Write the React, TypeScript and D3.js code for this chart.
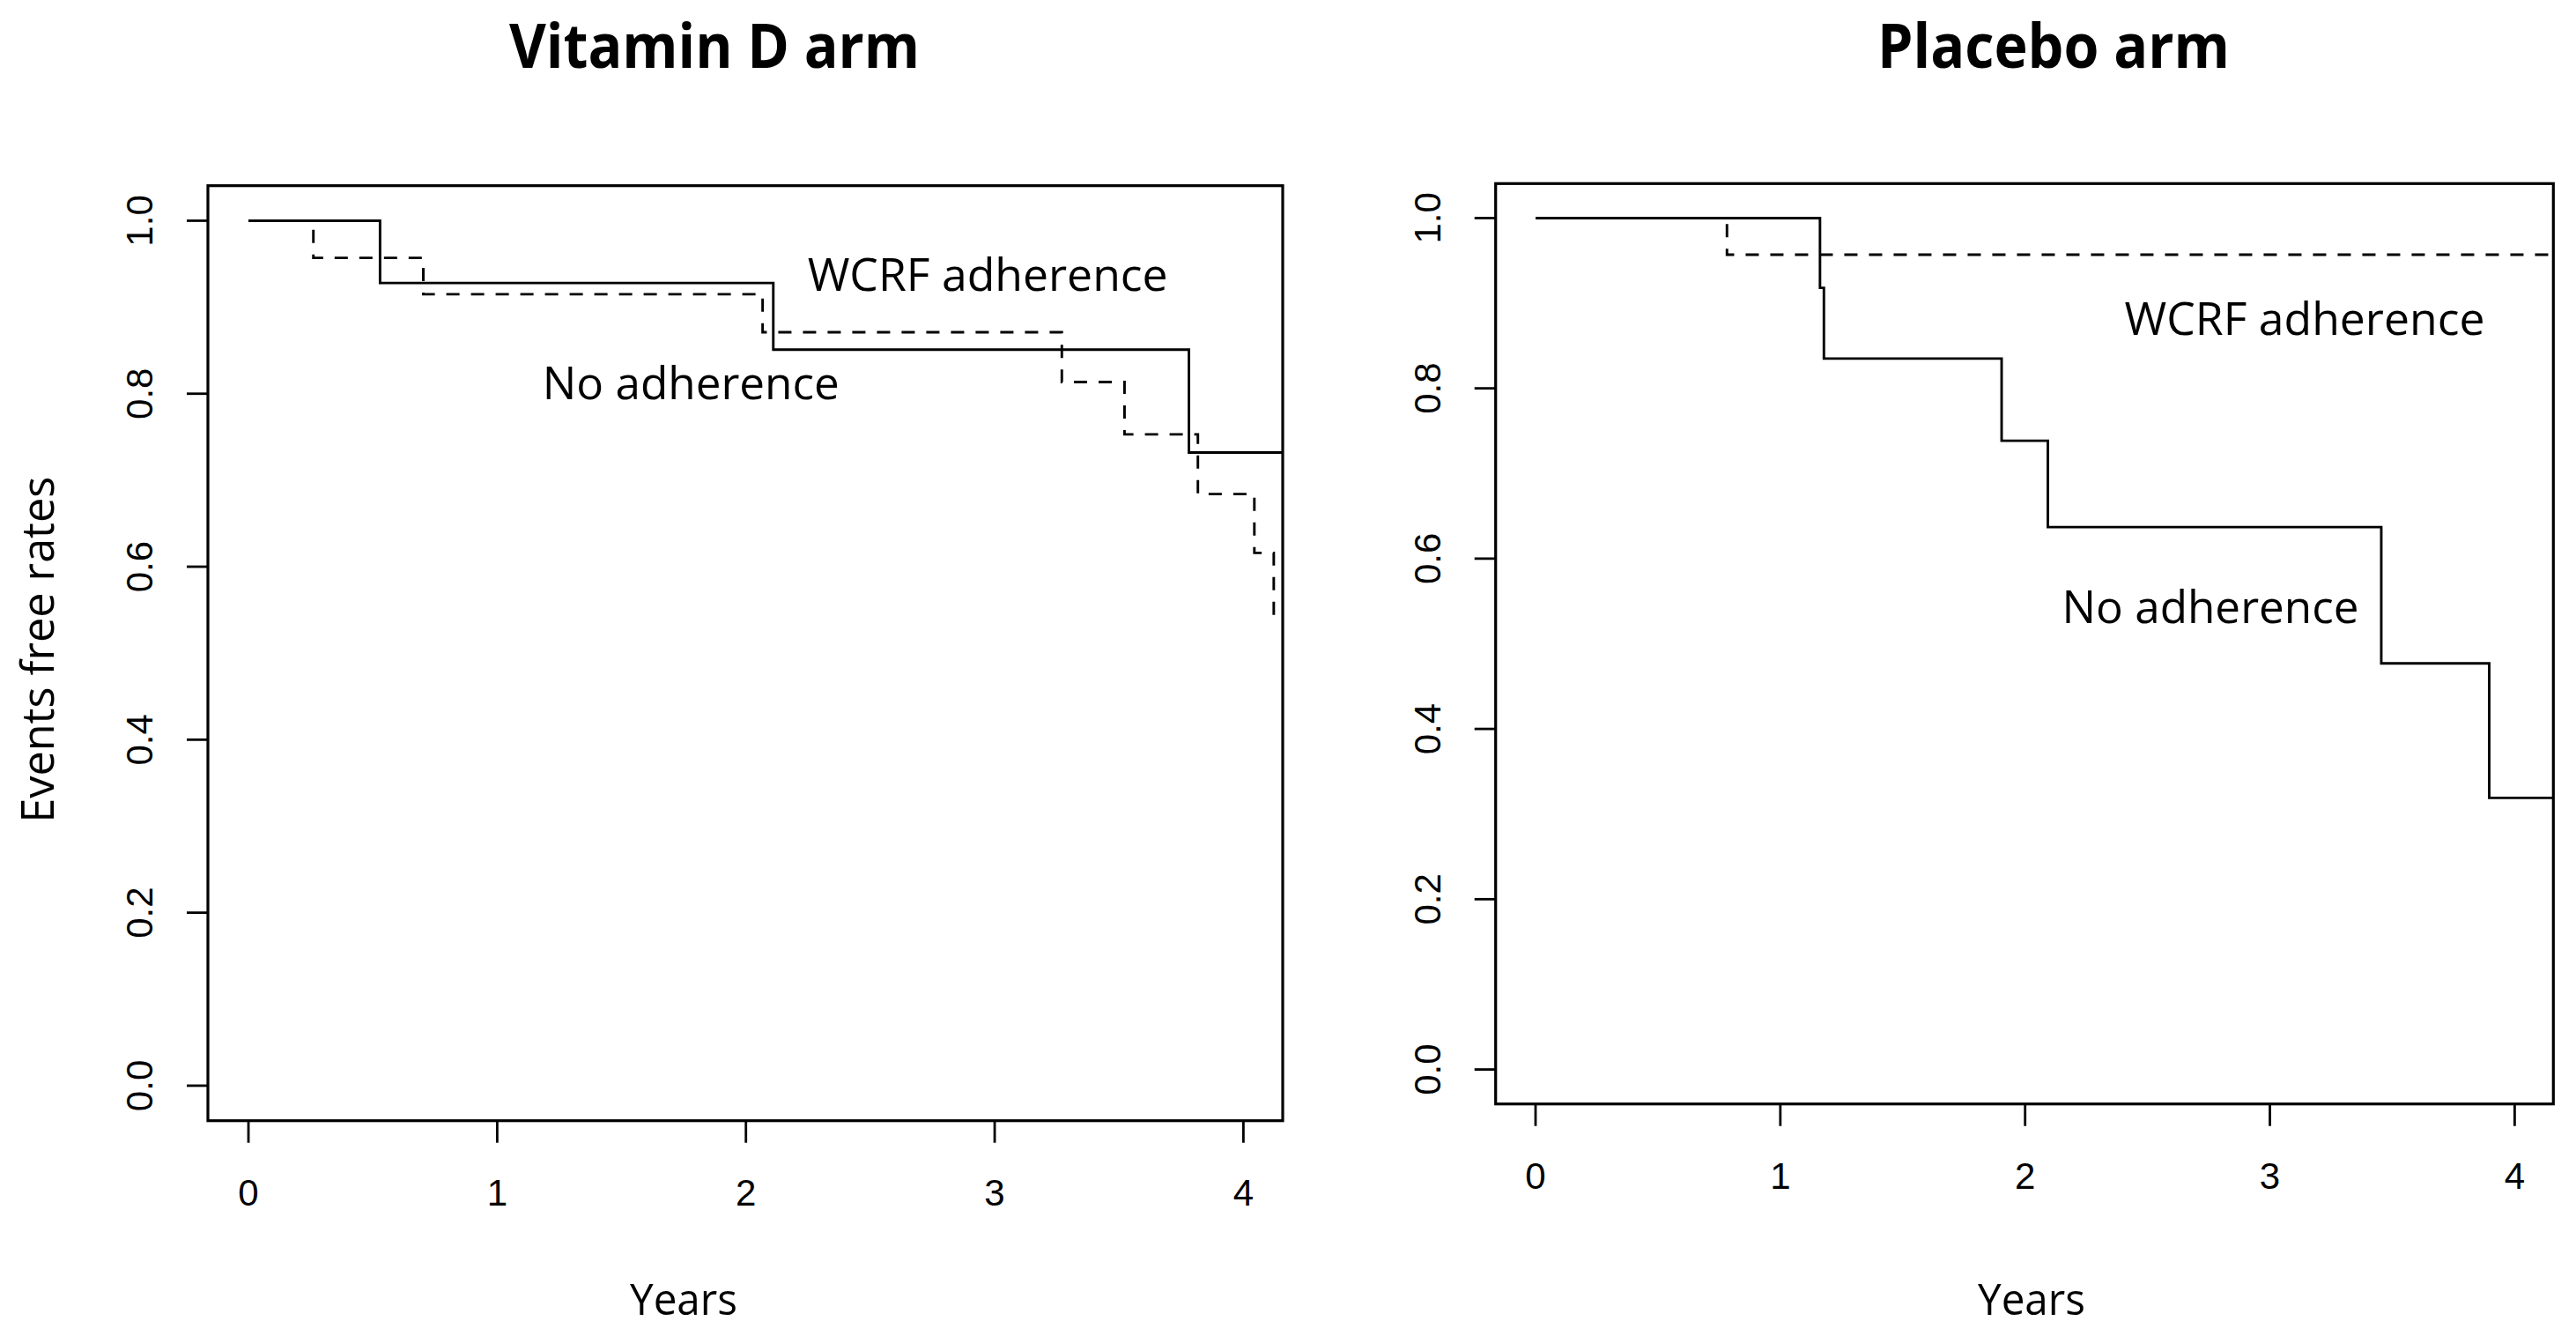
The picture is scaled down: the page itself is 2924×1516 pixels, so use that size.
import React from "react";
import * as d3 from "d3";

// Kaplan-Meier steps (years, event free rate)
const vitDNoAdhTimes = [0, 0.529, 2.11, 3.781, 4.2];
const vitDNoAdhSurv = [1, 0.928, 0.851, 0.732, 0.732];
const vitDWcrfTimes = [0, 0.261, 0.703, 2.067, 3.27, 3.522, 3.817, 4.044, 4.122, 4.2];
const vitDWcrfSurv = [1, 0.957, 0.915, 0.871, 0.8135, 0.753, 0.684, 0.616, 0.541, 0.541];

const plcNoAdhTimes = [0, 1.162, 1.178, 1.904, 2.093, 3.455, 3.896, 4.2];
const plcNoAdhSurv = [1, 0.918, 0.835, 0.7385, 0.637, 0.477, 0.319, 0.319];
const plcWcrfTimes = [0, 0.782, 4.2];
const plcWcrfSurv = [1, 0.957, 0.957];

const xTicks = [0, 1, 2, 3, 4];
const yTicks = [0, 0.2, 0.4, 0.6, 0.8, 1.0];

const titles = ["Vitamin D arm", "Placebo arm"];
const labelWcrf = "WCRF adherence";
const labelNoAdh = "No adherence";
// text() positions in data units, per panel
const vitDLabelPos = [[2.972, 0.939], [1.779, 0.814]];
const plcLabelPos = [[3.142, 0.884], [2.757, 0.545]];

type Pt = [number, number];
const zip = (t: number[], s: number[]): Pt[] => t.map((v, i) => [v, s[i]]);

interface PanelProps {
  id: string;
  box: { x0: number; x1: number; y0: number; y1: number };
  title: string;
  titleX: number;
  titleWidth: number;
  solid: Pt[];
  dashed: Pt[];
  labels: number[][];
  xlabX: number;
  ylab?: boolean;
}

const sans = "'Open Sans', 'Noto Sans', sans-serif";
const arial = "'Liberation Sans', Arial, sans-serif";

const Panel: React.FC<PanelProps> = ({ id, box, title, titleX, titleWidth, solid, dashed, labels, xlabX, ylab }) => {
  const x = d3.scaleLinear().domain([-0.163, 4.158]).range([box.x0, box.x1]);
  const y = d3.scaleLinear().domain([-0.0405, 1.0405]).range([box.y1, box.y0]);
  const line = d3
    .line<Pt>()
    .x((d) => x(d[0]))
    .y((d) => y(d[1]))
    .curve(d3.curveStepAfter);

  return (
    <g>
      <defs>
        <clipPath id={`clip-${id}`}>
          <rect x={box.x0} y={box.y0} width={box.x1 - box.x0} height={box.y1 - box.y0} />
        </clipPath>
      </defs>
      <text x={titleX} y={77} textAnchor="middle" fontFamily={sans} fontWeight="bold" fontSize={70}
        textLength={titleWidth} lengthAdjust="spacingAndGlyphs">{title}</text>

      <g clipPath={`url(#clip-${id})`} fill="none" stroke="#000" strokeWidth={2.9}>
        <path d={line(solid) || ""} />
        <path d={line(dashed) || ""} strokeDasharray="15,13" />
      </g>
      <rect x={box.x0} y={box.y0} width={box.x1 - box.x0} height={box.y1 - box.y0}
        fill="none" stroke="#000" strokeWidth={3.2} />

      {/* x axis */}
      {xTicks.map((t) => (
        <g key={`x${t}`}>
          <line x1={x(t)} x2={x(t)} y1={box.y1} y2={box.y1 + 25} stroke="#000" strokeWidth={2.8} />
          <text x={x(t)} y={box.y1 + 96} textAnchor="middle" fontFamily={arial} fontSize={42}>{t}</text>
        </g>
      ))}
      {/* y axis */}
      {yTicks.map((t) => (
        <g key={`y${t}`}>
          <line x1={box.x0 - 24} x2={box.x0} y1={y(t)} y2={y(t)} stroke="#000" strokeWidth={2.8} />
          <text transform={`translate(${box.x0 - 63},${y(t)}) rotate(-90)`} textAnchor="middle"
            fontFamily={arial} fontSize={42}>{t.toFixed(1)}</text>
        </g>
      ))}

      <text x={x(labels[0][0])} y={y(labels[0][1]) + 20} textAnchor="middle" fontFamily={sans} fontSize={52}
        textLength={409} lengthAdjust="spacingAndGlyphs">{labelWcrf}</text>
      <text x={x(labels[1][0])} y={y(labels[1][1]) + 20} textAnchor="middle" fontFamily={sans} fontSize={52}
        textLength={337} lengthAdjust="spacingAndGlyphs">{labelNoAdh}</text>

      <text x={xlabX} y={1492} textAnchor="middle" fontFamily={sans} fontSize={50}
        textLength={122} lengthAdjust="spacingAndGlyphs">Years</text>
      {ylab && (
        <text transform={`translate(61,${(box.y0 + box.y1) / 2 - 4}) rotate(-90)`} textAnchor="middle"
          fontFamily={sans} fontSize={52} textLength={393} lengthAdjust="spacingAndGlyphs">
          Events free rates
        </text>
      )}
    </g>
  );
};

export default function App() {
  return (
    <svg width={2924} height={1516} style={{ position: "absolute", left: 0, top: 0, background: "#fff" }}>
      <rect width={2924} height={1516} fill="#fff" />
      <Panel
        id="a"
        box={{ x0: 236, x1: 1456, y0: 210.7, y1: 1271.7 }}
        title={titles[0]}
        titleX={811}
        titleWidth={466}
        solid={zip(vitDNoAdhTimes, vitDNoAdhSurv)}
        dashed={zip(vitDWcrfTimes, vitDWcrfSurv)}
        labels={vitDLabelPos}
        xlabX={776}
        ylab
      />
      <Panel
        id="b"
        box={{ x0: 1697.7, x1: 2898.3, y0: 208.3, y1: 1252.7 }}
        title={titles[1]}
        titleX={2331}
        titleWidth={400}
        solid={zip(plcNoAdhTimes, plcNoAdhSurv)}
        dashed={zip(plcWcrfTimes, plcWcrfSurv)}
        labels={plcLabelPos}
        xlabX={2306}
      />
    </svg>
  );
}
